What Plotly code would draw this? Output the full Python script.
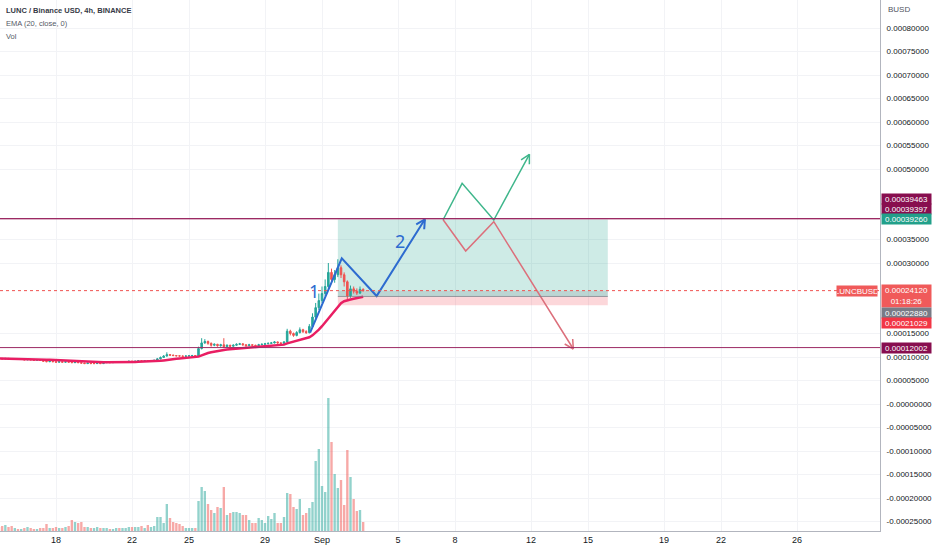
import math
import pandas as pd
import plotly.graph_objects as go

# ---------------- data ----------------
start_time = "2022-08-15 00:00"
bar_hours = 4
first_open = 9.8           # price unit: 1e-5 BUSD
price_unit = 1e-5

closes = [
    9.7, 9.6, 9.7, 9.6, 9.5, 9.6, 9.5,
    9.5, 9.4, 9.5, 9.4, 9.3, 9.4, 9.3,
    9.1, 9.0, 9.1, 9.0, 8.9, 9.0,
    8.9, 9.0, 8.9, 8.8, 8.9, 8.8,
    8.7, 8.6, 8.7, 8.6, 8.6, 8.7, 8.6,
    8.8, 8.9, 8.8, 8.9, 9.0, 8.9, 9.0, 9.0,
    9.1, 9.0, 9.1, 9.2, 9.1, 9.2, 9.1, 9.2,
    9.3, 9.6, 9.9, 10.2, 10.5, 10.4, 10.3, 10.25, 10.2, 10.15, 10.2, 10.25, 10.3, 10.2,
    11.8, 13.0, 13.3, 12.9, 12.5, 12.7, 12.4, 12.6, 12.2, 12.5,
    12.3, 12.5, 12.7, 12.8, 12.6, 12.4, 12.6, 12.5, 12.4, 12.6,
    12.7, 12.8, 12.9, 13.0, 13.2, 13.0, 12.9, 13.2,
    15.5, 15.0, 14.6, 15.2, 15.8, 15.4, 15.2, 16.5, 18.5, 20.5,
    22.0, 23.5, 25.0, 28.0, 26.5, 27.5, 29.0, 27.5, 26.0, 23.0,
    24.5, 24.0, 23.6, 24.4, 24.12,
]
highs = [
    9.9, 9.8, 9.8, 9.8, 9.7, 9.7, 9.7,
    9.6, 9.6, 9.6, 9.6, 9.5, 9.5, 9.5,
    9.4, 9.2, 9.3, 9.2, 9.1, 9.2,
    9.1, 9.1, 9.2, 9.0, 9.0, 9.0,
    8.9, 8.8, 8.8, 8.8, 8.7, 8.8, 8.8,
    8.9, 9.0, 9.0, 9.0, 9.1, 9.1, 9.1, 9.1,
    9.2, 9.2, 9.2, 9.3, 9.3, 9.3, 9.3, 9.3,
    9.4, 9.8, 10.1, 10.4, 11.0, 10.6, 10.5, 10.4, 10.35, 10.3, 10.35, 10.4, 10.45, 10.35,
    12.2, 14.0, 13.8, 13.5, 13.1, 12.9, 12.8, 12.8, 14.0, 12.7,
    12.6, 12.7, 12.9, 13.0, 12.9, 12.7, 12.8, 12.7, 12.6, 12.8,
    12.9, 13.0, 13.1, 13.2, 13.4, 13.3, 13.1, 13.4,
    16.0, 15.8, 15.2, 15.5, 16.3, 16.0, 15.7, 17.0, 19.3, 21.5,
    23.5, 25.0, 26.5, 30.0, 28.8, 28.5, 30.8, 29.5, 28.0, 26.3,
    25.2, 25.0, 24.6, 25.0, 24.6,
]
lows = [
    9.6, 9.5, 9.5, 9.5, 9.4, 9.4, 9.4,
    9.4, 9.3, 9.3, 9.3, 9.2, 9.2, 9.2,
    9.0, 8.9, 8.9, 8.9, 8.8, 8.8,
    8.8, 8.8, 8.8, 8.7, 8.7, 8.7,
    8.6, 8.5, 8.5, 8.5, 8.5, 8.5, 8.5,
    8.5, 8.7, 8.7, 8.7, 8.8, 8.8, 8.8, 8.9,
    8.9, 8.9, 8.9, 9.0, 9.0, 9.0, 9.0, 9.0,
    9.1, 9.2, 9.5, 9.8, 10.1, 10.2, 10.2, 10.15, 10.1, 10.05, 10.05, 10.1, 10.15, 10.1,
    10.1, 11.6, 12.8, 12.6, 12.2, 12.3, 12.2, 12.2, 12.0, 12.1,
    12.1, 12.2, 12.4, 12.6, 12.4, 12.2, 12.3, 12.3, 12.2, 12.3,
    12.5, 12.6, 12.7, 12.8, 12.9, 12.8, 12.7, 12.8,
    13.1, 14.6, 14.3, 14.4, 15.0, 15.1, 14.9, 15.0, 16.2, 18.0,
    20.0, 21.5, 23.0, 24.5, 25.5, 25.8, 27.0, 26.8, 25.0, 22.3,
    22.6, 23.5, 23.2, 23.4, 23.9,
]
volumes = [
    4, 5, 6, 4, 5, 3, 2, 2, 3, 4, 3, 2, 2, 3, 3,
    7, 3, 3, 4, 3, 3, 4, 5,
    11, 9, 8, 9,
    4, 4, 3, 3, 4, 3, 3, 3, 2, 2, 3, 3, 3, 3, 4, 4, 4,
    4, 5, 3, 6, 4,
    5, 14, 14, 8, 27,
    13, 9, 8, 7, 5, 3, 3, 3, 3,
    30, 44, 40, 27, 21, 18, 24, 23, 44, 16,
    18, 19, 19, 18, 16, 16, 11, 8, 8, 13,
    11, 8, 15, 12, 18, 8, 8, 14, 38, 37,
    24, 22, 32, 16, 18, 23, 29, 70, 82, 45,
    39, 133, 89, 57, 43, 51, 26, 81, 54, 32,
    20, 21, 9,
]

ema_length = 20

# levels
last_price = 0.00024120
level_top_a = 0.00039463
level_top_b = 0.00039397
level_bottom = 0.00012002
pos_target = 0.00039260
pos_entry = 0.00022880
pos_stop = 0.00021029
pos_start = "2022-09-01 20:00"
pos_end = "2022-09-16 01:00"

# hand-drawn paths
blue_t = ["2022-08-31 09:00", "2022-09-02 01:00", "2022-09-03 21:00", "2022-09-06 10:00"]
blue_p = [0.0001517, 0.000310, 0.0002298, 0.000393]
green_t = ["2022-09-07 09:00", "2022-09-08 09:00", "2022-09-10 01:00", "2022-09-11 22:00"]
green_p = [0.000392, 0.0004696, 0.0003915, 0.0005313]
red_t = ["2022-09-07 09:00", "2022-09-08 13:30", "2022-09-10 01:00", "2022-09-14 05:30"]
red_p = [0.000392, 0.0003255, 0.000388, 0.000117]
label1 = ("2022-08-31 14:00", 0.0002405, "1")
label2 = ("2022-09-05 02:30", 0.0003468, "2")

# axes
x_tickvals = ["2022-08-15", "2022-08-18", "2022-08-22", "2022-08-25", "2022-08-29", "2022-09-01",
              "2022-09-05", "2022-09-08", "2022-09-12", "2022-09-15", "2022-09-19", "2022-09-22",
              "2022-09-26"]
x_ticktext = ["15", "18", "22", "25", "29", "Sep", "5", "8", "12", "15", "19", "22", "26"]
y_tickvals = [0.0008, 0.00075, 0.0007, 0.00065, 0.0006, 0.00055, 0.0005, 0.00035, 0.0003,
              0.00015, 0.0001, 0.00005, 0.0, -0.00005, -0.0001, -0.00015, -0.0002, -0.00025]
y_ticktext = ["0.00080000", "0.00075000", "0.00070000", "0.00065000", "0.00060000", "0.00055000",
              "0.00050000", "0.00035000", "0.00030000", "0.00015000", "0.00010000", "0.00005000",
              "-0.00000000", "-0.00005000", "-0.00010000", "-0.00015000", "-0.00020000",
              "-0.00025000"]

# ---------------- build ----------------
n = len(closes)
times = pd.date_range(start_time, periods=n, freq=f"{bar_hours}h")
c = [v * price_unit for v in closes]
h = [v * price_unit for v in highs]
l = [v * price_unit for v in lows]
o = [first_open * price_unit] + c[:-1]
ema = pd.Series(c).ewm(span=ema_length, adjust=False).mean()

UP = "#26a69a"
DN = "#ef5350"
vol_colors = ["rgba(38,166,154,0.5)" if c[i] >= o[i] else "rgba(239,83,80,0.5)" for i in range(n)]

W, H = 932, 550
ML, MR, MT, MB = 0, 52, 0, 19
PW, PH = W - ML - MR, H - MT - MB
x0 = pd.Timestamp("2022-08-15 01:15:47")
x1 = pd.Timestamp("2022-09-30 08:50:31")
y_lo, y_hi = -0.00027021, 0.00085957


def to_px(t, p):
    t = pd.Timestamp(t)
    px = (t - x0) / (x1 - x0) * PW
    py = (p - y_lo) / (y_hi - y_lo) * PH
    return px, py


def from_px(px, py):
    t = x0 + (x1 - x0) * (px / PW)
    p = y_lo + (y_hi - y_lo) * (py / PH)
    return t, p


def arrow_head(ts, ps, length=10, ang=28):
    ex, ey = to_px(ts[-1], ps[-1])
    sx, sy = to_px(ts[-2], ps[-2])
    dx, dy = ex - sx, ey - sy
    d = math.hypot(dx, dy)
    dx, dy = dx / d, dy / d
    xs, ys = [], []
    for s in (1, -1):
        a = math.radians(ang) * s
        rx = dx * math.cos(a) - dy * math.sin(a)
        ry = dx * math.sin(a) + dy * math.cos(a)
        t, p = from_px(ex - length * rx, ey - length * ry)
        te, pe = from_px(ex, ey)
        xs += [t, te, None]
        ys += [p, pe, None]
    return xs, ys


fig = go.Figure()

fig.add_trace(go.Bar(x=times, y=volumes, marker=dict(color=vol_colors, line=dict(width=0)),
                     yaxis="y2", hoverinfo="skip"))

fig.add_trace(go.Candlestick(
    x=times, open=o, high=h, low=l, close=c,
    increasing=dict(line=dict(color=UP, width=1), fillcolor=UP),
    decreasing=dict(line=dict(color=DN, width=1), fillcolor=DN),
    whiskerwidth=0, hoverinfo="skip"))

fig.add_trace(go.Scatter(x=times, y=ema, mode="lines",
                         line=dict(color="#e91e63", width=2.5), hoverinfo="skip"))

for ts, ps, col, wd in [(blue_t, blue_p, "#2d6bd0", 2), (green_t, green_p, "#3fb68b", 1.5),
                        (red_t, red_p, "#dc6f7b", 1.5)]:
    fig.add_trace(go.Scatter(x=pd.to_datetime(ts), y=ps, mode="lines",
                             line=dict(color=col, width=wd), hoverinfo="skip"))
    ax, ay = arrow_head(ts, ps)
    fig.add_trace(go.Scatter(x=ax, y=ay, mode="lines",
                             line=dict(color=col, width=wd), hoverinfo="skip"))

shapes = []
# position tool
shapes.append(dict(type="rect", xref="x", yref="y", x0=pos_start, x1=pos_end, y0=pos_entry,
                   y1=pos_target, fillcolor="rgba(8,153,129,0.2)", line=dict(width=0),
                   layer="between"))
shapes.append(dict(type="rect", xref="x", yref="y", x0=pos_start, x1=pos_end, y0=pos_entry,
                   y1=last_price, fillcolor="rgba(120,123,134,0.2)", line=dict(width=0),
                   layer="between"))
shapes.append(dict(type="rect", xref="x", yref="y", x0=pos_start, x1=pos_end, y0=pos_stop,
                   y1=pos_entry, fillcolor="rgba(242,54,69,0.2)", line=dict(width=0),
                   layer="between"))
shapes.append(dict(type="line", xref="x", yref="y", x0=pos_start, x1=pos_end, y0=pos_entry,
                   y1=pos_entry, line=dict(color="rgba(120,123,134,0.7)", width=1)))
# horizontal lines
for lv in (level_top_a, level_top_b, level_bottom):
    shapes.append(dict(type="line", xref="paper", yref="y", x0=0, x1=1, y0=lv, y1=lv,
                       line=dict(color="#9c2a63", width=1)))
shapes.append(dict(type="line", xref="paper", yref="y", x0=0, x1=1, y0=last_price, y1=last_price,
                   line=dict(color="#ef5350", width=1, dash="dot")))

MAROON = "#880e4f"
ann = []
lab_font = dict(family="Liberation Sans, Arial, sans-serif", size=8, color="white")


def price_label(val, text, bg, shift, two=False):
    ann.append(dict(xref="paper", yref="y", x=1, y=val, xanchor="left",
                    yanchor="middle", xshift=1, yshift=shift, text=text, showarrow=False,
                    bgcolor=bg, font=lab_font, width=49, height=22 if two else 10,
                    borderpad=0, align="center"))


price_label(level_top_a, f"{level_top_a:.8f}", MAROON, 19.5)
price_label(level_top_b, f"{level_top_b:.8f}", MAROON, 10)
price_label(pos_target, f"{pos_target:.8f}", "#22a08a", 0)
price_label(last_price, f"{last_price:.8f}<br>01:18:26", "#f05a5a", -5, two=True)
price_label(pos_entry, f"{pos_entry:.8f}", "#787b86", -16.5)
price_label(pos_stop, f"{pos_stop:.8f}", "#f23645", -18)
price_label(level_bottom, f"{level_bottom:.8f}", MAROON, 0)

ann.append(dict(xref="paper", yref="y", x=1, y=last_price, xanchor="right", yanchor="middle",
                xshift=-2, text="LUNCBUSD", showarrow=False, bgcolor="#f05a5a", font=lab_font,
                width=40, height=10, borderpad=0))
ann.append(dict(xref="paper", yref="paper", x=1, y=1, xanchor="left", yanchor="middle",
                xshift=6, yshift=-9, text="BUSD", showarrow=False,
                font=dict(family="Liberation Sans, sans-serif", size=8, color="#50535e")))

for (t, p, s) in (label1, label2):
    ann.append(dict(xref="x", yref="y", x=t, y=p, text=s, showarrow=False,
                    font=dict(family="Noto Sans, sans-serif", size=18, color="#2d6bd0")))

legend_lines = [("<b>LUNC / Binance USD, 4h, BINANCE</b>", 10, "#363a45"),
                ("EMA (20, close, 0)", 23, "#555a66"), ("Vol", 36, "#555a66")]
for txt, ypx, col in legend_lines:
    ann.append(dict(xref="paper", yref="paper", x=0, y=1, xanchor="left", yanchor="middle",
                    xshift=4, yshift=-ypx, text=txt, showarrow=False,
                    font=dict(family="Liberation Sans Narrow, Liberation Sans, sans-serif",
                              size=7.5, color=col)))

vol_max = max(volumes)
fig.update_layout(
    width=W, height=H, margin=dict(l=ML, r=MR, t=MT, b=MB),
    paper_bgcolor="white", plot_bgcolor="white", showlegend=False, hovermode=False,
    bargap=0.25,
    shapes=shapes, annotations=ann,
    xaxis=dict(type="date", range=[x0, x1], tickvals=x_tickvals, ticktext=x_ticktext,
               showgrid=True, gridcolor="#f2f3f6", showline=True, linecolor="#b2b5be",
               ticks="", rangeslider=dict(visible=False), zeroline=False,
               tickfont=dict(family="Liberation Sans, sans-serif", size=9, color="#131722")),
    yaxis=dict(side="right", range=[y_lo, y_hi], tickvals=y_tickvals, ticktext=y_ticktext,
               showgrid=True, gridcolor="#f2f3f6", showline=True, linecolor="#b2b5be",
               zeroline=False, ticks="", ticklabelstandoff=4,
               tickfont=dict(family="Liberation Sans, Arial, sans-serif", size=8,
                             color="#131722")),
    yaxis2=dict(overlaying="y", range=[0, vol_max * PH / 133], visible=False),
)

fig.write_html("out.html", config={"displayModeBar": False},
               post_script="document.body.style.margin='0';")
